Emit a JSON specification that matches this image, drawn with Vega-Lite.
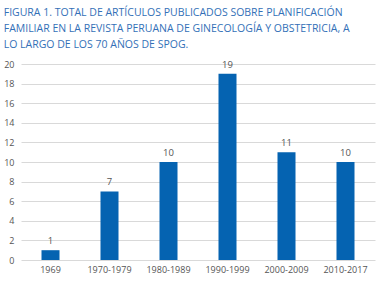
{
  "$schema": "https://vega.github.io/schema/vega-lite/v6.json",
  "width": 354,
  "height": 196,
  "autosize": "none",
  "padding": {"left": 21, "top": 64, "right": 12, "bottom": 25},
  "background": "white",
  "title": {
    "text": ["FIGURA 1. TOTAL DE ARTÍCULOS PUBLICADOS SOBRE PLANIFICACIÓN", "FAMILIAR EN LA REVISTA PERUANA DE GINECOLOGÍA Y OBSTETRICIA, A", "LO LARGO DE LOS 70 AÑOS DE SPOG."],
    "anchor": "start",
    "frame": "bounds",
    "dx": 0,
    "offset": 9,
    "font": "Open Sans",
    "fontSize": 10.5,
    "fontWeight": "normal",
    "lineHeight": 16,
    "color": "#3370b7"
  },
  "data": {
    "values": [
      {"periodo": "1969", "total": 1},
      {"periodo": "1970-1979", "total": 7},
      {"periodo": "1980-1989", "total": 10},
      {"periodo": "1990-1999", "total": 19},
      {"periodo": "2000-2009", "total": 11},
      {"periodo": "2010-2017", "total": 10}
    ]
  },
  "encoding": {
    "x": {
      "field": "periodo", "type": "nominal", "sort": null,
      "axis": {"title": null, "labelAngle": 0, "ticks": false, "domain": false, "labelFont": "Open Sans", "labelFontSize": 9, "labelColor": "#555555", "labelPadding": 5}
    },
    "y": {
      "field": "total", "type": "quantitative",
      "scale": {"domain": [0, 20]},
      "axis": {"title": null, "values": [0,2,4,6,8,10,12,14,16,18,20], "ticks": false, "domain": false, "gridColor": "#d9d9d9", "gridWidth": 1, "labelFont": "Open Sans", "labelFontSize": 9, "labelColor": "#555555", "labelPadding": 7}
    }
  },
  "layer": [
    {"mark": {"type": "bar", "color": "#0563b1", "width": 18}},
    {"mark": {"type": "text", "baseline": "bottom", "dy": -4, "font": "Open Sans", "fontSize": 9.5, "color": "#555555"}, "encoding": {"text": {"field": "total"}}}
  ],
  "config": {"view": {"stroke": null}}
}
